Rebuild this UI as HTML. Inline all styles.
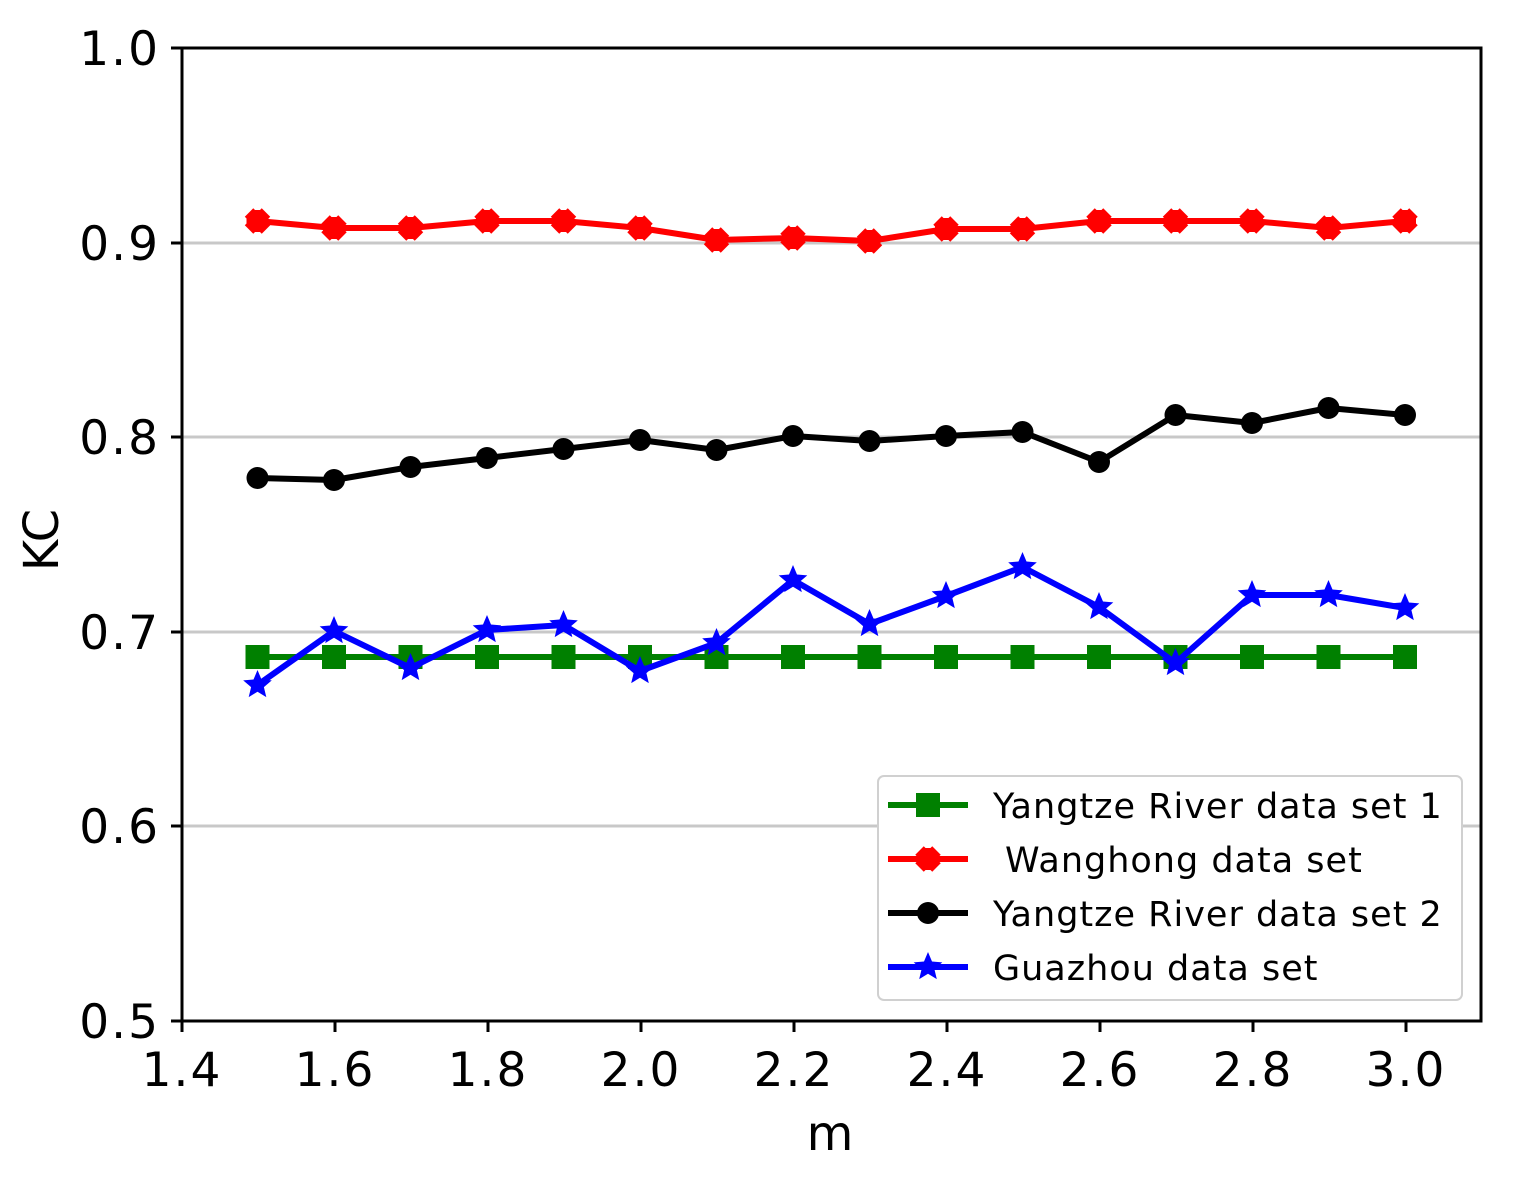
<!DOCTYPE html>
<html><head><meta charset="utf-8"><style>
body{margin:0;background:#fff}
svg text{font-family:"DejaVu Sans","Liberation Sans",sans-serif;fill:#000}
</style></head><body>
<svg id="s" width="1525" height="1195" xmlns="http://www.w3.org/2000/svg">
<rect width="1525" height="1195" fill="#fff"/>
<g stroke="#c8c8c8" stroke-width="3">
<line x1="182" x2="1481" y1="243" y2="243"/>
<line x1="182" x2="1481" y1="437" y2="437"/>
<line x1="182" x2="1481" y1="632" y2="632"/>
<line x1="182" x2="1481" y1="826" y2="826"/>
</g>
<g id="series"></g>
<rect x="182" y="48" width="1299" height="973" fill="none" stroke="#000" stroke-width="3"/>
<g id="ticks" stroke="#000" stroke-width="3"></g>
<g font-size="47" text-anchor="end" letter-spacing="2">
<text x="160" y="65">1.0</text>
<text x="160" y="260">0.9</text>
<text x="160" y="454">0.8</text>
<text x="160" y="649">0.7</text>
<text x="160" y="843">0.6</text>
<text x="160" y="1038">0.5</text>
</g>
<g font-size="47" text-anchor="middle" letter-spacing="2" id="xl"></g>
<text x="830" y="1150" font-size="48" text-anchor="middle">m</text>
<text transform="translate(58,540) rotate(-90)" font-size="48" text-anchor="middle">KC</text>
<rect x="878" y="776" width="584" height="224" rx="6" fill="#fff" stroke="#d0d0d0" stroke-width="2"/>
<g id="leg"></g>
<g font-size="35" letter-spacing="1">
<text x="993" y="818">Yangtze River data set 1</text>
<text x="1005" y="872">Wanghong data set</text>
<text x="993" y="926">Yangtze River data set 2</text>
<text x="993" y="980">Guazhou data set</text>
</g>
</svg>
<script>
const NS="http://www.w3.org/2000/svg";
function el(p,t,a){const e=document.createElementNS(NS,t);for(const k in a)e.setAttribute(k,a[k]);p.appendChild(e);return e;}
const X=i=>257.5+i*76.5;
const red=[221,228,228,221,221,228,240,238,241,229,229,221,221,221,228,221];
const blk=[478,480,467,458,449,440,450,436,441,436,432,462,415,423,408,415];
const blu=[685,631,668,630,625,671,643,580,624,596,567,607,663,595,595,608];
const grn=Array(16).fill(657);
const g=document.getElementById('series');
function star(cx,cy,r){let p=[];for(let k=0;k<10;k++){const a=-Math.PI/2+k*Math.PI/5,rr=k%2?r*0.45:r;p.push((cx+rr*Math.cos(a)).toFixed(1)+","+(cy+rr*Math.sin(a)).toFixed(1));}return p.join(" ");}
function plus(cx,cy,r,w){return `M${cx-r},${cy-w}H${cx-w}V${cy-r}H${cx+w}V${cy-w}H${cx+r}V${cy+w}H${cx+w}V${cy+r}H${cx-w}V${cy+w}H${cx-r}Z`;}
function marker(p,type,x,y,c){
 if(type=='s')el(p,'rect',{x:x-12,y:y-12,width:24,height:24,fill:c});
 else if(type=='o')el(p,'circle',{cx:x,cy:y,r:11,fill:c});
 else if(type=='*')el(p,'polygon',{points:star(x,y,15),fill:c});
 else {el(p,'path',{d:plus(x,y,12,6),fill:c,transform:`rotate(45 ${x} ${y})`});el(p,'path',{d:plus(x,y,11,5),fill:c});}
}
function series(d,c,t){
 el(g,'polyline',{points:d.map((y,i)=>X(i)+","+y).join(" "),fill:"none",stroke:c,"stroke-width":6,"stroke-linejoin":"round"});
 d.forEach((y,i)=>marker(g,t,X(i),y,c));
}
series(grn,'#008000','s');series(red,'#ff0000','x');series(blk,'#000','o');series(blu,'#0000ff','*');
const tk=document.getElementById('ticks'),xl=document.getElementById('xl');
for(let i=0;i<9;i++){const x=182+i*153;el(tk,'line',{x1:x,x2:x,y1:1021,y2:1032});const t=el(xl,'text',{x:x,y:1086});t.textContent=(1.4+i*0.2).toFixed(1);}
[48,243,437,632,826,1021].forEach(y=>el(tk,'line',{x1:171,x2:182,y1:y,y2:y}));
const lg=document.getElementById('leg');
[['#008000','s',805],['#ff0000','x',859],['#000','o',913],['#0000ff','*',967]].forEach(([c,t,y])=>{
 el(lg,'line',{x1:888,x2:968,y1:y,y2:y,stroke:c,"stroke-width":6});marker(lg,t,928,y,c);});
</script>
</body></html>
